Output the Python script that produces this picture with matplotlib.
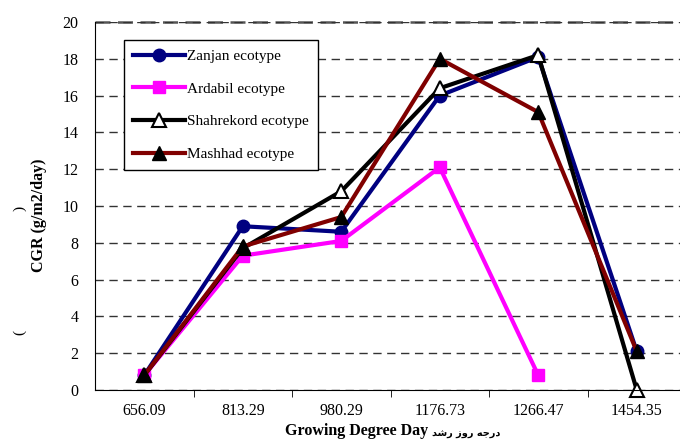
import numpy as np
import matplotlib.pyplot as plt

# Growing degree day categories and CGR values
gdd_labels = ['656.09', '813.29', '980.29', '1176.73', '1266.47', '1454.35']
zanjan = [0.8, 8.9, 8.6, 16.0, 18.1, 2.1]
ardabil = [0.8, 7.3, 8.1, 12.1, 0.8, np.nan]
shahrekord = [0.8, 7.7, 10.8, 16.4, 18.2, 0.0]
mashhad = [0.8, 7.8, 9.4, 18.0, 15.1, 2.1]

SERIF = 'Liberation Serif'
x = np.arange(len(gdd_labels))

fig = plt.figure(figsize=(6.8, 4.4), dpi=100)
ax = fig.add_axes([95 / 680, 50 / 440, 591 / 680, 368 / 440])

ax.plot(x, zanjan, color='#000080', lw=3, marker='o', ms=9, label='Zanjan ecotype', clip_on=False)
ax.plot(x, ardabil, color='#FF00FF', lw=3, marker='s', ms=9, label='Ardabil ecotype', clip_on=False)
ax.plot(x, shahrekord, color='black', lw=3, marker='^', ms=10, mfc='white', mec='black', mew=1.5,
        label='Shahrekord ecotype', clip_on=False)
ax.plot(x, mashhad, color='#800000', lw=3, marker='^', ms=10, mfc='black', mec='black',
        label='Mashhad ecotype', clip_on=False)

ax.set_xlim(-0.5, len(gdd_labels) - 0.5)
ax.set_ylim(0, 20)
ax.set_yticks(np.arange(0, 21, 2))
ax.set_xticks(x)
ax.set_xticklabels(gdd_labels)
ax.set_xticks(np.arange(0.5, len(gdd_labels), 1), minor=True)
ax.tick_params(axis='x', which='major', length=0, pad=9)
ax.tick_params(axis='x', which='minor', length=5, direction='out', color='black')
ax.tick_params(axis='y', length=0, pad=12)
for lab in ax.get_xticklabels() + ax.get_yticklabels():
    lab.set_family(SERIF)
    lab.set_fontsize(11.5)

ax.grid(axis='y', color='#333333', lw=1, linestyle=(0, (6, 4)))
ax.set_axisbelow(True)
ax.spines['top'].set_visible(False)
ax.spines['right'].set_visible(False)
ax.axhline(20, color='#555555', lw=1.8, linestyle=(0, (6, 3)), clip_on=False, zorder=0.5)

ax.set_ylabel('CGR (g/m2/day)', family=SERIF, fontsize=11.5, fontweight='bold')
ax.yaxis.set_label_coords(-0.081, 0.476)
fig.text(357 / 680, 1 - 431 / 440, 'Growing Degree Day', family=SERIF, fontsize=11.5,
         fontweight='bold', ha='center', va='center')
# Persian caption in visual order using Arabic presentation forms
fig.text(432 / 680, 1 - 434 / 440, '\uFEAA\uFEB7\uFEAD \uFEAF\uFEED\uFEAD \uFEEA\uFE9F\uFEAD\uFEA9',
         family=['DejaVu Sans'], fontsize=7, fontweight='bold', ha='left', va='center')
fig.text(20 / 680, 1 - 208 / 440, ')', family=SERIF, fontsize=11, rotation=90, ha='center', va='center')
fig.text(20 / 680, 1 - 332 / 440, '(', family=SERIF, fontsize=11, rotation=90, ha='center', va='center')

leg = ax.legend(loc='upper left', bbox_to_anchor=(0.049, 0.951), borderaxespad=0,
                fancybox=False, edgecolor='black', framealpha=1, handlelength=3.4,
                handletextpad=0.1, labelspacing=1.25, borderpad=0.6,
                prop={'family': SERIF, 'size': 11})
leg.get_frame().set_linewidth(1)

fig.savefig('out.png', dpi=100)
